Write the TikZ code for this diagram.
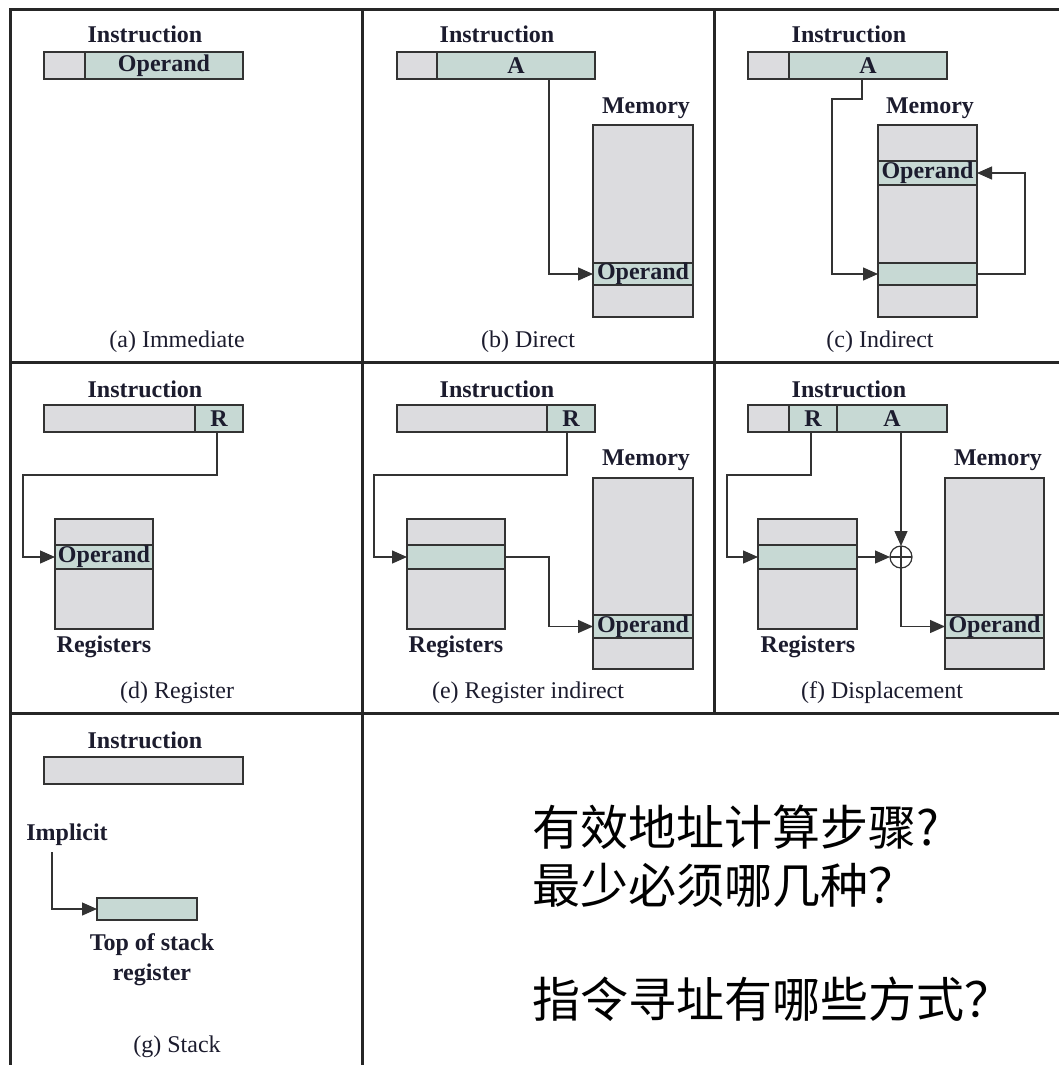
\documentclass[tikz,border=0pt]{standalone}
\usepackage{fontspec}
\setmainfont{Liberation Serif}
\newfontfamily\cjk{Noto Sans CJK SC}
\usetikzlibrary{arrows.meta}
\definecolor{cgray}{HTML}{DCDCDF}
\definecolor{cgreen}{HTML}{C7D9D4}
\definecolor{cline}{HTML}{333333}
\definecolor{ctext}{HTML}{1C1C2E}
\tikzset{
 cellbase/.style={draw=cline, line width=1.3pt, inner sep=0pt, outer sep=0pt, font=\fontsize{24}{26}\selectfont\bfseries, text=ctext},
 lbl/.style={inner sep=0pt, anchor=base, font=\fontsize{24}{28}\selectfont\bfseries, text=ctext},
 captext/.style={inner sep=0pt, anchor=base, font=\fontsize{24}{28}\selectfont, text=ctext},
 arr/.style={draw=cline, line width=1.3pt, -{Triangle[length=15pt,width=13pt]}},
 framestyle/.style={draw=black!85, line width=3pt},
 cjktext/.style={inner sep=0pt, anchor=base west, font=\cjk\fontsize{48}{56}\selectfont, text=black},
}
\newcommand\cell[7]{\node[cellbase, fill=#6, minimum width={(#4-#2)*1pt}, minimum height={(#5-#3)*1pt}] (#1) at ({(#2+#4)/2},{(#3+#5)/2}) {#7};}
\begin{document}
\begin{tikzpicture}[x=1pt,y=-1pt]
\useasboundingbox (0,0) rectangle (1059,1065);
\fill[white] (0,0) rectangle (1059,1065);
% frame
\draw[framestyle] (10,1066) -- (10,10) -- (1062,10);
\draw[framestyle] (10,362) -- (1062,362);
\draw[framestyle] (10,713) -- (1062,713);
\draw[framestyle] (362,10) -- (362,1066);
\draw[framestyle] (714,10) -- (714,713);

% (a) Immediate
\node[lbl] (ainst) at (145,43) {Instruction};
\cell{aop0}{44}{52}{85}{79}{cgray}{}
\cell{aop}{85}{52}{243}{79}{cgreen}{Operand}
\node[captext] (acap) at (177,347) {(a) Immediate};

% (b) Direct
\node[lbl] (binst) at (497,43) {Instruction};
\cell{bop0}{397}{52}{437}{79}{cgray}{}
\cell{bA}{437}{52}{595}{79}{cgreen}{A}
\node[lbl] (bmem) at (646,113) {Memory};
\cell{bm1}{593}{125}{693}{263}{cgray}{}
\cell{bop}{593}{263}{693}{285}{cgreen}{Operand}
\cell{bm2}{593}{285}{693}{317}{cgray}{}
\draw[arr] ([xshift=33pt]bA.south) |- (bop.west);
\node[captext] (bcap) at (528,347) {(b) Direct};

% (c) Indirect
\node[lbl] (cinst) at (849,43) {Instruction};
\cell{cop0}{748}{52}{789}{79}{cgray}{}
\cell{cA}{789}{52}{947}{79}{cgreen}{A}
\node[lbl] (cmem) at (930,113) {Memory};
\cell{cm1}{878}{125}{977}{161}{cgray}{}
\cell{cop}{878}{161}{977}{185}{cgreen}{Operand}
\cell{cm2}{878}{185}{977}{263}{cgray}{}
\cell{cptr}{878}{263}{977}{285}{cgreen}{}
\cell{cm3}{878}{285}{977}{317}{cgray}{}
\coordinate (cbend) at (832,99);
\coordinate (cret) at (1025,274);
\draw[arr] ([xshift=-6pt]cA.south) |- (cbend) |- (cptr.west);
\draw[arr] (cptr.east) -- (cret) |- (cop.east);
\node[captext] (ccap) at (880,347) {(c) Indirect};

% (d) Register
\node[lbl] (dinst) at (145,397) {Instruction};
\cell{dop0}{44}{405}{195}{432}{cgray}{}
\cell{dR}{195}{405}{243}{432}{cgreen}{R}
\cell{dr1}{55}{519}{153}{545}{cgray}{}
\cell{dop}{55}{545}{153}{569}{cgreen}{Operand}
\cell{dr2}{55}{569}{153}{629}{cgray}{}
\coordinate (dbend) at (23,475);
\draw[arr] ([xshift=-2pt]dR.south) |- (dbend) |- (dop.west);
\node[lbl] (dregs) at (104,652) {Registers};
\node[captext] (dcap) at (177,698) {(d) Register};

% (e) Register indirect
\node[lbl] (einst) at (497,397) {Instruction};
\cell{eop0}{397}{405}{547}{432}{cgray}{}
\cell{eR}{547}{405}{595}{432}{cgreen}{R}
\cell{er1}{407}{519}{505}{545}{cgray}{}
\cell{ereg}{407}{545}{505}{569}{cgreen}{}
\cell{er2}{407}{569}{505}{629}{cgray}{}
\node[lbl] (emem) at (646,465) {Memory};
\cell{em1}{593}{478}{693}{615}{cgray}{}
\cell{eop}{593}{615}{693}{638}{cgreen}{Operand}
\cell{em2}{593}{638}{693}{669}{cgray}{}
\coordinate (ebend) at (374,475);
\coordinate (emid) at (549,600);
\draw[arr] ([xshift=-4pt]eR.south) |- (ebend) |- (ereg.west);
\draw[arr] (ereg.east) -| (emid) |- (eop.west);
\node[lbl] (eregs) at (456,652) {Registers};
\node[captext] (ecap) at (528,698) {(e) Register indirect};

% (f) Displacement
\node[lbl] (finst) at (849,397) {Instruction};
\cell{fop0}{748}{405}{789}{432}{cgray}{}
\cell{fR}{789}{405}{837}{432}{cgreen}{R}
\cell{fA}{837}{405}{947}{432}{cgreen}{A}
\cell{fr1}{758}{519}{857}{545}{cgray}{}
\cell{freg}{758}{545}{857}{569}{cgreen}{}
\cell{fr2}{758}{569}{857}{629}{cgray}{}
\node[lbl] (fmem) at (998,465) {Memory};
\cell{fm1}{945}{478}{1044}{615}{cgray}{}
\cell{fop}{945}{615}{1044}{638}{cgreen}{Operand}
\cell{fm2}{945}{638}{1044}{669}{cgray}{}
\node[draw=cline, line width=1.2pt, circle, minimum size=22pt, inner sep=0pt, outer sep=0pt, fill=white] (plus) at (901,557) {};
\draw[cline, line width=1.2pt] (plus.north) -- (plus.south) (plus.west) -- (plus.east);
\coordinate (fbend) at (727,475);
\draw[arr] ([xshift=-2pt]fR.south) |- (fbend) |- (freg.west);
\draw[arr] (freg.east) -- (plus.west);
\draw[arr] (plus |- fA.south) -- (plus.north);
\draw[arr] (plus.south) |- (fop.west);
\node[lbl] (fregs) at (808,652) {Registers};
\node[captext] (fcap) at (882,698) {(f) Displacement};

% (g) Stack
\node[lbl] (ginst) at (145,748) {Instruction};
\cell{gins}{44}{757}{243}{784}{cgray}{}
\node[lbl] (gimpl) at (67,840) {Implicit};
\cell{gtop}{97}{898}{197}{920}{cgreen}{}
\draw[arr] ([xshift=-15pt,yshift=-7pt]gimpl.south) |- (gtop.west);
\node[lbl] (gtos1) at (152,950) {Top of stack};
\node[lbl] (gtos2) at (152,980) {register};
\node[captext] (gcap) at (177,1052) {(g) Stack};

% questions
\node[cjktext] (q1) at (532,845) {有效地址计算步骤?};
\node[cjktext] (q2) at (532,903) {最少必须哪几种？};
\node[cjktext] (q3) at (532,1017) {指令寻址有哪些方式？};
\end{tikzpicture}
\end{document}
